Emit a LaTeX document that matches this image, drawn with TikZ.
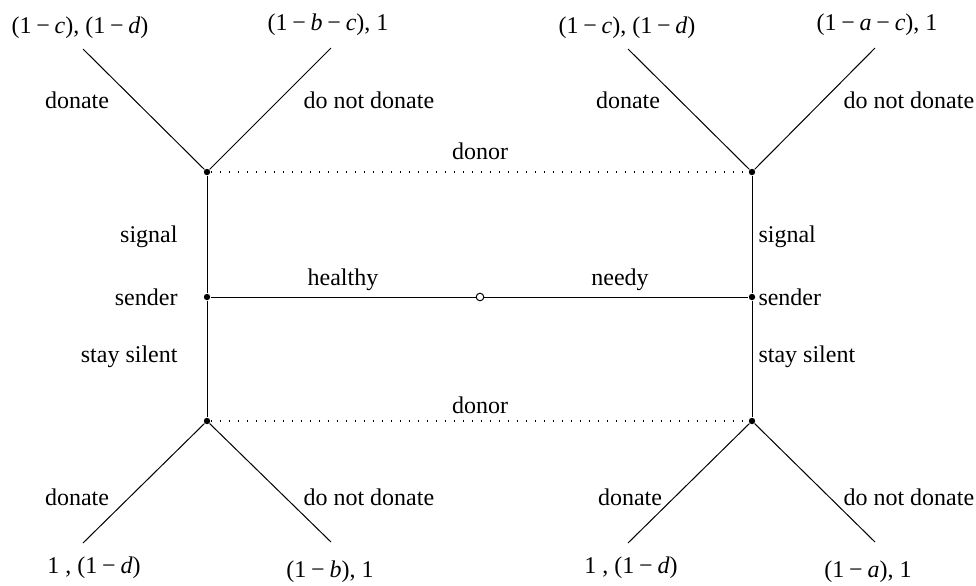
\documentclass[tikz,border=0pt]{standalone}
\usepackage{fontspec}
\setmainfont{Liberation Serif}
\tikzset{
  dec/.style={circle, fill, inner sep=0pt, minimum size=3.2pt},
  chance/.style={circle, draw, fill=white, inner sep=0pt, minimum size=3.8pt},
  info/.style={dash pattern=on 0.5pt off 4pt, line width=0.7pt},
  lbl/.style={inner sep=0pt}
}
\newcommand{\mn}{\hspace{0.2em}−\hspace{0.2em}}

\begin{document}
\begin{tikzpicture}[x=0.5pt, y=-0.5pt, line width=0.5pt, font=\rmfamily\fontsize{12}{14}\selectfont]
\useasboundingbox (0,0) rectangle (976,585);
\node[chance] (nature) at (480,297) {};
\node[dec] (sendL) at (207,297) {};
\node[dec] (sendR) at (752,297) {};
\node[dec] (donLT) at (207,172) {};
\node[dec] (donLB) at (207,421) {};
\node[dec] (donRT) at (752,172) {};
\node[dec] (donRB) at (752,421) {};
\coordinate (endLT1) at (83,49);
\coordinate (endLT2) at (331,48);
\coordinate (endRT1) at (628,49);
\coordinate (endRT2) at (875,48);
\coordinate (endLB1) at (83,543);
\coordinate (endLB2) at (331,542);
\coordinate (endRB1) at (628,543);
\coordinate (endRB2) at (875,542);
\draw (sendL) -- (nature) -- (sendR);
\draw (donLT) -- (sendL) -- (donLB);
\draw (donRT) -- (sendR) -- (donRB);
\draw (endLT1) -- (donLT) -- (endLT2);
\draw (endRT1) -- (donRT) -- (endRT2);
\draw (endLB1) -- (donLB) -- (endLB2);
\draw (endRB1) -- (donRB) -- (endRB2);
\draw[info] (donLT) -- (donRT);
\draw[info] (donLB) -- (donRB);

\node[lbl] (payLT1) at (80,28) {(1\mn\textit{c}), (1\mn\textit{d})};
\node[lbl] (payLT2) at (328,25) {(1\mn\textit{b}\mn\textit{c}), 1};
\node[lbl] (payRT1) at (627,28) {(1\mn\textit{c}), (1\mn\textit{d})};
\node[lbl] (payRT2) at (877,25) {(1\mn\textit{a}\mn\textit{c}), 1};
\node[lbl] (payLB1) at (94,568) {1 , (1\mn\textit{d})};
\node[lbl] (payLB2) at (330,572) {(1\mn\textit{b}), 1};
\node[lbl] (payRB1) at (631,568) {1 , (1\mn\textit{d})};
\node[lbl] (payRB2) at (868,572) {(1\mn\textit{a}), 1};

\node[lbl] (actLT1) at (77,100) {donate};
\node[lbl, anchor=west] (actLT2) at (303,100) {do not donate};
\node[lbl] (actRT1) at (628,100) {donate};
\node[lbl, anchor=west] (actRT2) at (843,100) {do not donate};
\node[lbl] (actLB1) at (77,497) {donate};
\node[lbl, anchor=west] (actLB2) at (303,497) {do not donate};
\node[lbl] (actRB1) at (630,497) {donate};
\node[lbl, anchor=west] (actRB2) at (843,497) {do not donate};

\node[lbl] (infoT) at (480,151) {donor};
\node[lbl] (infoB) at (480,405) {donor};
\node[lbl] (healthy) at (343,280) {healthy};
\node[lbl] (needy) at (620,280) {needy};

\node[lbl, anchor=east] (sigL) at (178,237) {signal};
\node[lbl, anchor=east] (sndL) at (178,297) {sender};
\node[lbl, anchor=east] (silL) at (178,357) {stay silent};
\node[lbl, anchor=west] (sigR) at (758,237) {signal};
\node[lbl, anchor=west] (sndR) at (758,297) {sender};
\node[lbl, anchor=west] (silR) at (758,357) {stay silent};
\end{tikzpicture}
\end{document}
